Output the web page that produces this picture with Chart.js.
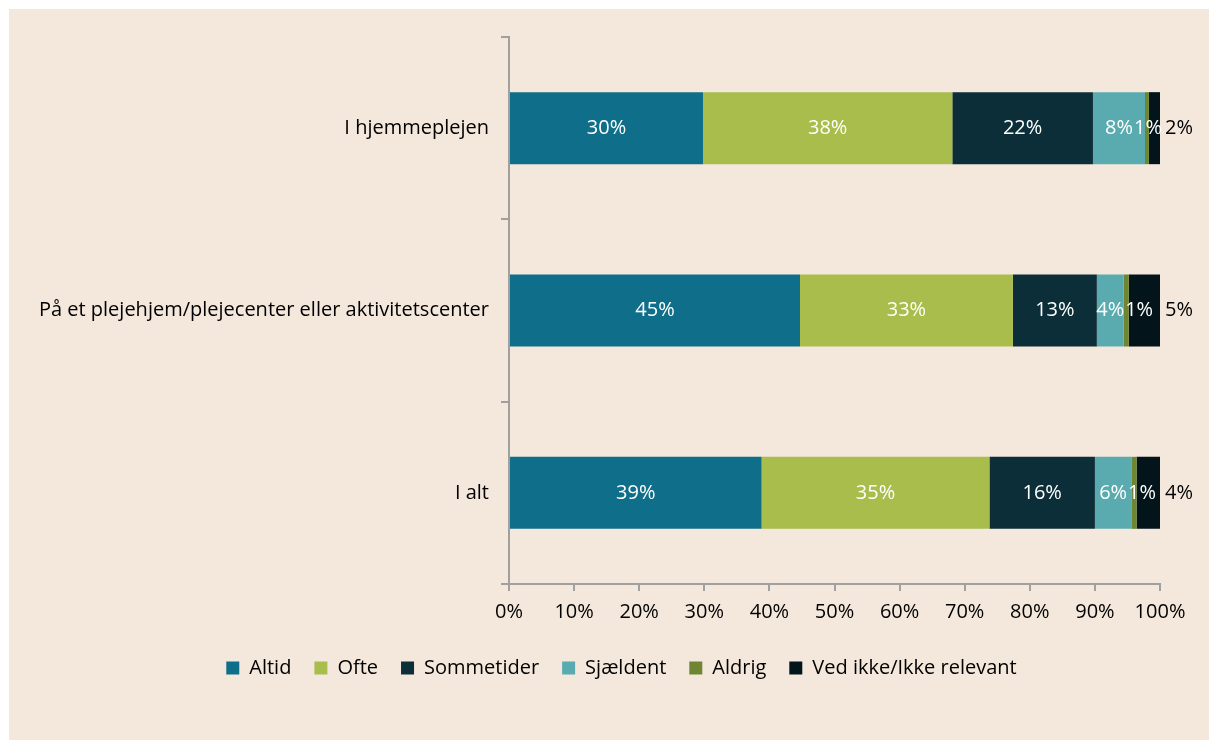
<!DOCTYPE html>
<html>
<head>
<meta charset="utf-8">
<script src="https://cdn.jsdelivr.net/npm/chart.js@4.4.0/dist/chart.umd.min.js"></script>
<style>
  body { margin: 0; background: #ffffff; }
  #wrap { position: absolute; left: 9px; top: 9px; width: 1200px; height: 731px; background: #f4e8dc; }
</style>
</head>
<body>
<div id="wrap"><canvas id="myChart"></canvas></div>
<script>
// categories and series (percent)
var categories = ['I hjemmeplejen', 'På et plejehjem/plejecenter eller aktivitetscenter', 'I alt'];
var seriesNames = ['Altid', 'Ofte', 'Sommetider', 'Sjældent', 'Aldrig', 'Ved ikke/Ikke relevant'];
var altid = [29.8, 44.7, 38.8];
var ofte = [38.3, 32.7, 35.0];
var sommetider = [21.6, 12.9, 16.2];
var sjaeldent = [8.0, 4.1, 5.6];
var aldrig = [0.6, 0.8, 0.8];
var vedIkke = [1.7, 4.8, 3.6];
var xTicks = [0, 10, 20, 30, 40, 50, 60, 70, 80, 90, 100];

var colors = ['#0f6e8a', '#a8bd4c', '#0b2e39', '#5aabb0', '#6e8531', '#03151b'];
var values = [altid, ofte, sommetider, sjaeldent, aldrig, vedIkke];

var fontFamily = "'Open Sans', 'Noto Sans', sans-serif";
var fontSize = 20;

// draws value labels on the segments, last series outside the bar
// labels that would overlap the previous one get pushed to the right
var barLabels = {
    id: 'barLabels',
    afterDatasetsDraw: function (chart) {
        var c = chart.ctx;
        c.save();
        c.font = fontSize + 'px ' + fontFamily;
        c.textAlign = 'center';
        c.textBaseline = 'middle';
        var last = chart.data.datasets.length - 1;
        var prevRight = [];
        chart.data.datasets.forEach(function (ds, i) {
            var meta = chart.getDatasetMeta(i);
            meta.data.forEach(function (bar, j) {
                var txt = Math.round(ds.data[j]) + '%';
                var w = c.measureText(txt).width;
                if (i === last) {
                    c.fillStyle = '#000000';
                    c.fillText(txt, bar.x + 19, bar.y);
                } else {
                    var cx = (bar.x + bar.base) / 2;
                    if (prevRight[j] !== undefined && cx - w / 2 < prevRight[j] + 1) {
                        cx = prevRight[j] + 1 + w / 2;
                    }
                    prevRight[j] = cx + w / 2;
                    c.fillStyle = '#ffffff';
                    c.fillText(txt, cx, bar.y);
                }
            });
        });
        c.restore();
    }
};

// legend in the original sits a bit right of centre
var legendShift = {
    id: 'legendShift',
    afterLayout: function (chart) {
        if (chart.legend) {
            chart.legend.left += 74;
            chart.legend.right += 0;
        }
    }
};

var ctx = document.getElementById('myChart').getContext('2d');
var myChart = new Chart(ctx, {
    type: 'bar',
    data: {
        labels: categories,
        datasets: seriesNames.map(function (name, i) {
            return {
                label: name,
                data: values[i],
                backgroundColor: colors[i],
                borderWidth: 0,
                barPercentage: 0.79,
                categoryPercentage: 0.5
            };
        })
    },
    options: {
        indexAxis: 'y',
        responsive: true,
        maintainAspectRatio: false,
        animation: false,
        layout: { padding: { left: 0, right: 49, top: 28, bottom: 52 } },
        scales: {
            x: {
                stacked: true,
                min: 0,
                max: 100,
                afterBuildTicks: function (scale) {
                    scale.ticks = xTicks.map(function (v) { return { value: v }; });
                },
                afterFit: function (scale) { scale.height = 51; },
                ticks: {
                    callback: function (v) { return v + '%'; },
                    color: '#000000',
                    font: { family: fontFamily, size: fontSize },
                    padding: 9,
                    maxRotation: 0
                },
                grid: { drawOnChartArea: false, tickLength: 7, color: '#a0a0a0', lineWidth: 2 },
                border: { color: '#a0a0a0', width: 2 }
            },
            y: {
                stacked: true,
                afterFit: function (scale) { scale.width = 500; },
                ticks: {
                    color: '#000000',
                    font: { family: fontFamily, size: fontSize },
                    padding: 12
                },
                grid: { drawOnChartArea: false, tickLength: 8, color: '#a0a0a0', lineWidth: 2, offset: true },
                border: { color: '#a0a0a0', width: 2 }
            }
        },
        plugins: {
            legend: {
                position: 'bottom',
                labels: {
                    boxWidth: 13,
                    boxHeight: 13,
                    padding: 23,
                    color: '#000000',
                    font: { family: fontFamily, size: fontSize }
                }
            },
            tooltip: { enabled: false }
        }
    },
    plugins: [barLabels, legendShift]
});
</script>
</body>
</html>
